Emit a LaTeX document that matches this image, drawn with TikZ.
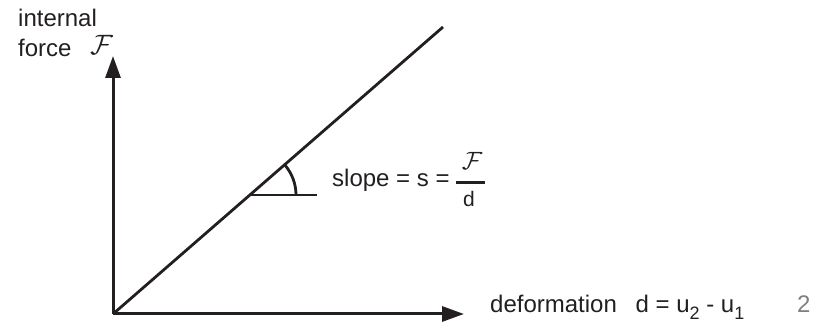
\documentclass[tikz,border=0pt]{standalone}
\usepackage{fix-cm}
\usepackage{fontspec}
\setmainfont{Liberation Sans}
\usetikzlibrary{arrows.meta}
\definecolor{ink}{HTML}{231F20}
\begin{document}
\begin{tikzpicture}[x=1pt,y=-1pt,
  axis/.style={line width=3pt,draw=ink,-{Triangle[length=22pt,width=15pt]}},
  ln/.style={line width=2.8pt,draw=ink},
  lbl/.style={anchor=base west,inner sep=0pt,font=\fontsize{24}{28}\selectfont,text=ink},
  calF/.style={inner sep=0pt,text=ink,font=\fontsize{28}{30}\selectfont}]
\newcommand{\lowsub}[1]{\raisebox{-7pt}{\fontsize{18}{18}\selectfont #1}}
\useasboundingbox (0,0) rectangle (825,328);
\coordinate (O) at (113,314);
\coordinate (Ytip) at (113,56);
\coordinate (Xtip) at (464,314);
\coordinate (Lend) at (443,27);
\coordinate (A) at (250,195);
\coordinate (H) at (317,195);
\draw[axis] (O) -- (Ytip);
\draw[axis] (O) -- (Xtip);
\draw[ln] (O) -- (Lend);
\draw[ln] (A) -- (H);
\draw[ln] (A) ++(46,0) arc[start angle=0,end angle=-41,radius=46];
\node[lbl] (int) at (18,27) {internal};
\node[lbl] (frc) at (18,57) {force};
\node[calF,anchor=base west] (frcF) at (90,55) {$\mathcal{F}$};
\node[lbl] (slope) at (332,187) {slope = s =};
\coordinate (barL) at (456,183);
\coordinate (barR) at (485,183);
\draw[line width=3pt,draw=ink] (barL) -- (barR);
\node[calF,anchor=base,font=\fontsize{25}{28}\selectfont] (num) at (472,170) {$\mathcal{F}$};
\node[anchor=base,inner sep=0pt,text=ink,font=\fontsize{21}{24}\selectfont] (den) at (469,207) {d};
\node[lbl] (def) at (490,313) {deformation\hspace{0.5em} d = u\lowsub{2} - u\lowsub{1}};
\node[lbl,text=gray] (pg) at (797,313) {2};
\end{tikzpicture}
\end{document}
